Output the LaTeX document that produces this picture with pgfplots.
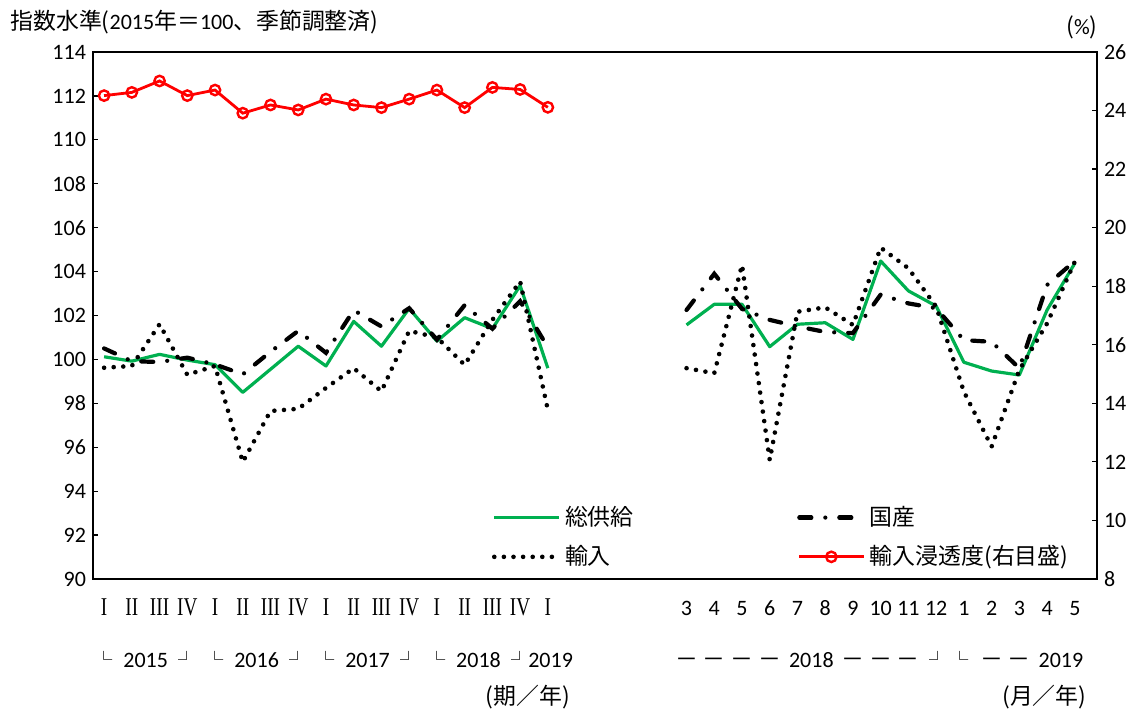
\documentclass[border=0pt]{standalone}
\usepackage{pgfplots}
\pgfplotsset{compat=1.18}
\usepackage{fontspec}
\usepackage{graphicx}
\setmainfont{Carlito}
\newfontfamily\jp[Scale=1.04]{Noto Sans CJK JP}
\newfontfamily\rmn{Liberation Serif}
\definecolor{xlgreen}{RGB}{0,176,80}
\newcommand\lb{\makebox[4pt][r]{\raisebox{0.5pt}{\scalebox{0.75}{\jp └}}}}
\newcommand\rb{\makebox[4pt][l]{\raisebox{0.5pt}{\scalebox{0.75}{\jp ┘}}}}
\newcommand\dsh{{\jp －}}
\newcommand\rn[1]{\scalebox{0.75}[1]{\rmn\fontsize{12.8}{14}\selectfont #1}}
\pgfplotsset{
 common/.style={
  scale only axis, width=502pt, height=263.5pt,
  at={(46.5pt,65.5pt)}, anchor=south west,
  xmin=-0.4, xmax=35.8,
  tick align=inside, major tick length=2.5pt,
  every tick/.style={black, line width=0.6pt},
  axis line style={line width=0.9pt},
  /pgf/number format/assume math mode=true,
  yticklabel style={font=\fontsize{11}{13}\selectfont},
  clip=false,
 },
 /pgfplots/legend image code/.code={\draw[mark repeat=2,mark phase=2,#1] plot coordinates {(0pt,0pt) (16pt,0pt) (32.5pt,0pt)};},
 gstyle/.style={color=xlgreen, line width=1.6pt, line join=round},
 dstyle/.style={black, line width=2.1pt, dash pattern=on 6pt off 7pt on 0pt off 7pt, line cap=round},
 istyle/.style={black, line width=2.3pt, dash pattern=on 0pt off 4.8pt, line cap=round},
 rstyle/.style={red, line width=1.4pt, mark=o, mark size=2.6pt, mark options={solid, fill=white, line width=1.2pt}},
}
\begin{document}
\begin{tikzpicture}[font=\fontsize{11}{13}\selectfont, x=1pt, y=1pt]
\useasboundingbox (0,0) rectangle (570,355);
\begin{axis}[common,
  ymin=90, ymax=114, ytick={90,92,...,114}, ytick pos=left,
  xtick={0,1,2,3,4,5,6,7,8,9,10,11,12,13,14,15,16,21,22,23,24,25,26,27,28,29,30,31,32,33,34,35},
  xticklabels={\rn{I},\rn{II},\rn{III},\rn{IV},\rn{I},\rn{II},\rn{III},\rn{IV},\rn{I},\rn{II},\rn{III},\rn{IV},\rn{I},\rn{II},\rn{III},\rn{IV},\rn{I},3,4,5,6,7,8,9,10,11,12,1,2,3,4,5},
  xtick style={draw=none},
  xticklabel style={anchor=base, yshift=-18.25pt, font=\fontsize{11}{13}\selectfont},
]
% 総供給
\addplot[gstyle] coordinates {(0,100.12)(1,99.92)(2,100.23)(3,99.97)(4,99.76)(5,98.5)(6,99.55)(7,100.6)(8,99.7)(9,101.73)(10,100.6)(11,102.32)(12,100.83)(13,101.9)(14,101.4)(15,103.36)(16,99.6)};
\addplot[gstyle] coordinates {(21,101.57)(22,102.51)(23,102.51)(24,100.58)(25,101.6)(26,101.67)(27,100.91)(28,104.48)(29,103.12)(30,102.43)(31,99.87)(32,99.47)(33,99.29)(34,102.25)(35,104.38)};
% 国産
\addplot[dstyle] coordinates {(0,100.5)(1,99.92)(2,99.88)(3,100.08)(4,99.77)(5,99.32)(6,100.35)(7,101.3)(8,100.3)(9,102.24)(10,101.5)(11,102.33)(12,100.9)(13,102.47)(14,101.4)(15,102.65)(16,100.55)};
\addplot[dstyle] coordinates {(21,102.25)(22,103.9)(23,102.3)(24,101.8)(25,101.5)(26,101.25)(27,101.2)(28,102.95)(29,102.55)(30,102.33)(31,100.88)(32,100.8)(33,99.6)(34,103.39)(35,104.48)};
% 輸入
\addplot[istyle] coordinates {(0,99.62)(1,99.7)(2,101.6)(3,99.3)(4,99.7)(5,95.33)(6,97.65)(7,97.75)(8,98.7)(9,99.6)(10,98.55)(11,101.3)(12,101.0)(13,99.75)(14,101.8)(15,103.55)(16,97.7)};
\addplot[istyle] coordinates {(21,99.6)(22,99.37)(23,104.3)(24,95.42)(25,102.17)(26,102.37)(27,101.57)(28,105.09)(29,104.15)(30,102.4)(31,98.53)(32,96.03)(33,99.52)(34,101.64)(35,104.45)};
% second row labels
\pgfplotsinvokeforeach{0,4,8,12,30.86}{\node[anchor=base west, yshift=-44.25pt, inner sep=0pt] at (axis cs:#1,90) {\lb};}
\pgfplotsinvokeforeach{3,7,11,15,30.07}{\node[anchor=base east, yshift=-44.25pt, inner sep=0pt] at (axis cs:#1,90) {\rb};}
\pgfplotsinvokeforeach{21,22,23,24,27,28,29,32,33}{\node[anchor=base, yshift=-44.25pt, inner sep=0pt] at (axis cs:#1,90) {\dsh};}
\node[anchor=base, yshift=-44.25pt, inner sep=0pt] at (axis cs:1.5,90) {2015};
\node[anchor=base, yshift=-44.25pt, inner sep=0pt] at (axis cs:5.5,90) {2016};
\node[anchor=base, yshift=-44.25pt, inner sep=0pt] at (axis cs:9.5,90) {2017};
\node[anchor=base, yshift=-44.25pt, inner sep=0pt] at (axis cs:13.5,90) {2018};
\node[anchor=base, yshift=-44.25pt, inner sep=0pt] at (axis cs:16.1,90) {2019};
\node[anchor=base, yshift=-44.25pt, inner sep=0pt] at (axis cs:25.5,90) {2018};
\node[anchor=base, yshift=-44.25pt, inner sep=0pt] at (axis cs:34.5,90) {2019};
\node[anchor=center, yshift=-59pt, inner sep=0pt] at (axis cs:15.28,90) {\jp (期／年)};
\node[anchor=center, yshift=-59pt, inner sep=0pt] at (axis cs:33.9,90) {\jp (月／年)};
\end{axis}
\begin{axis}[common,
  ymin=8, ymax=26, ytick={8,10,...,26},
  axis x line=none, axis y line*=right,
  legend columns=2,
  legend style={at={(0.397,0.145)}, anchor=north west, draw=none, fill=none,
    inner sep=0pt, nodes={inner sep=1.75pt, text depth=0.15em}, cells={anchor=west},
    /tikz/every even column/.append style={column sep=80pt},
    /tikz/row sep=5pt, font=\jp\fontsize{11}{13}\selectfont},
]
\addlegendimage{gstyle}\addlegendentry{総供給}
\addlegendimage{dstyle}\addlegendentry{国産}
\addlegendimage{istyle}\addlegendentry{輸入}
\addplot[rstyle] coordinates {(0,24.51)(1,24.62)(2,25.01)(3,24.51)(4,24.70)(5,23.91)(6,24.19)(7,24.02)(8,24.39)(9,24.19)(10,24.10)(11,24.39)(12,24.70)(13,24.10)(14,24.79)(15,24.72)(16,24.11)};
\addlegendentry{輸入浸透度(右目盛)}
\end{axis}
\node[anchor=west, inner sep=0pt] at (5,344) {{\jp 指数水準(}2015{\jp 年＝}100{\jp 、季節調整済)}};
\node[anchor=center, inner sep=0pt] at (541,341.5) {{\jp (}\%{\jp )}};
\end{tikzpicture}
\end{document}
